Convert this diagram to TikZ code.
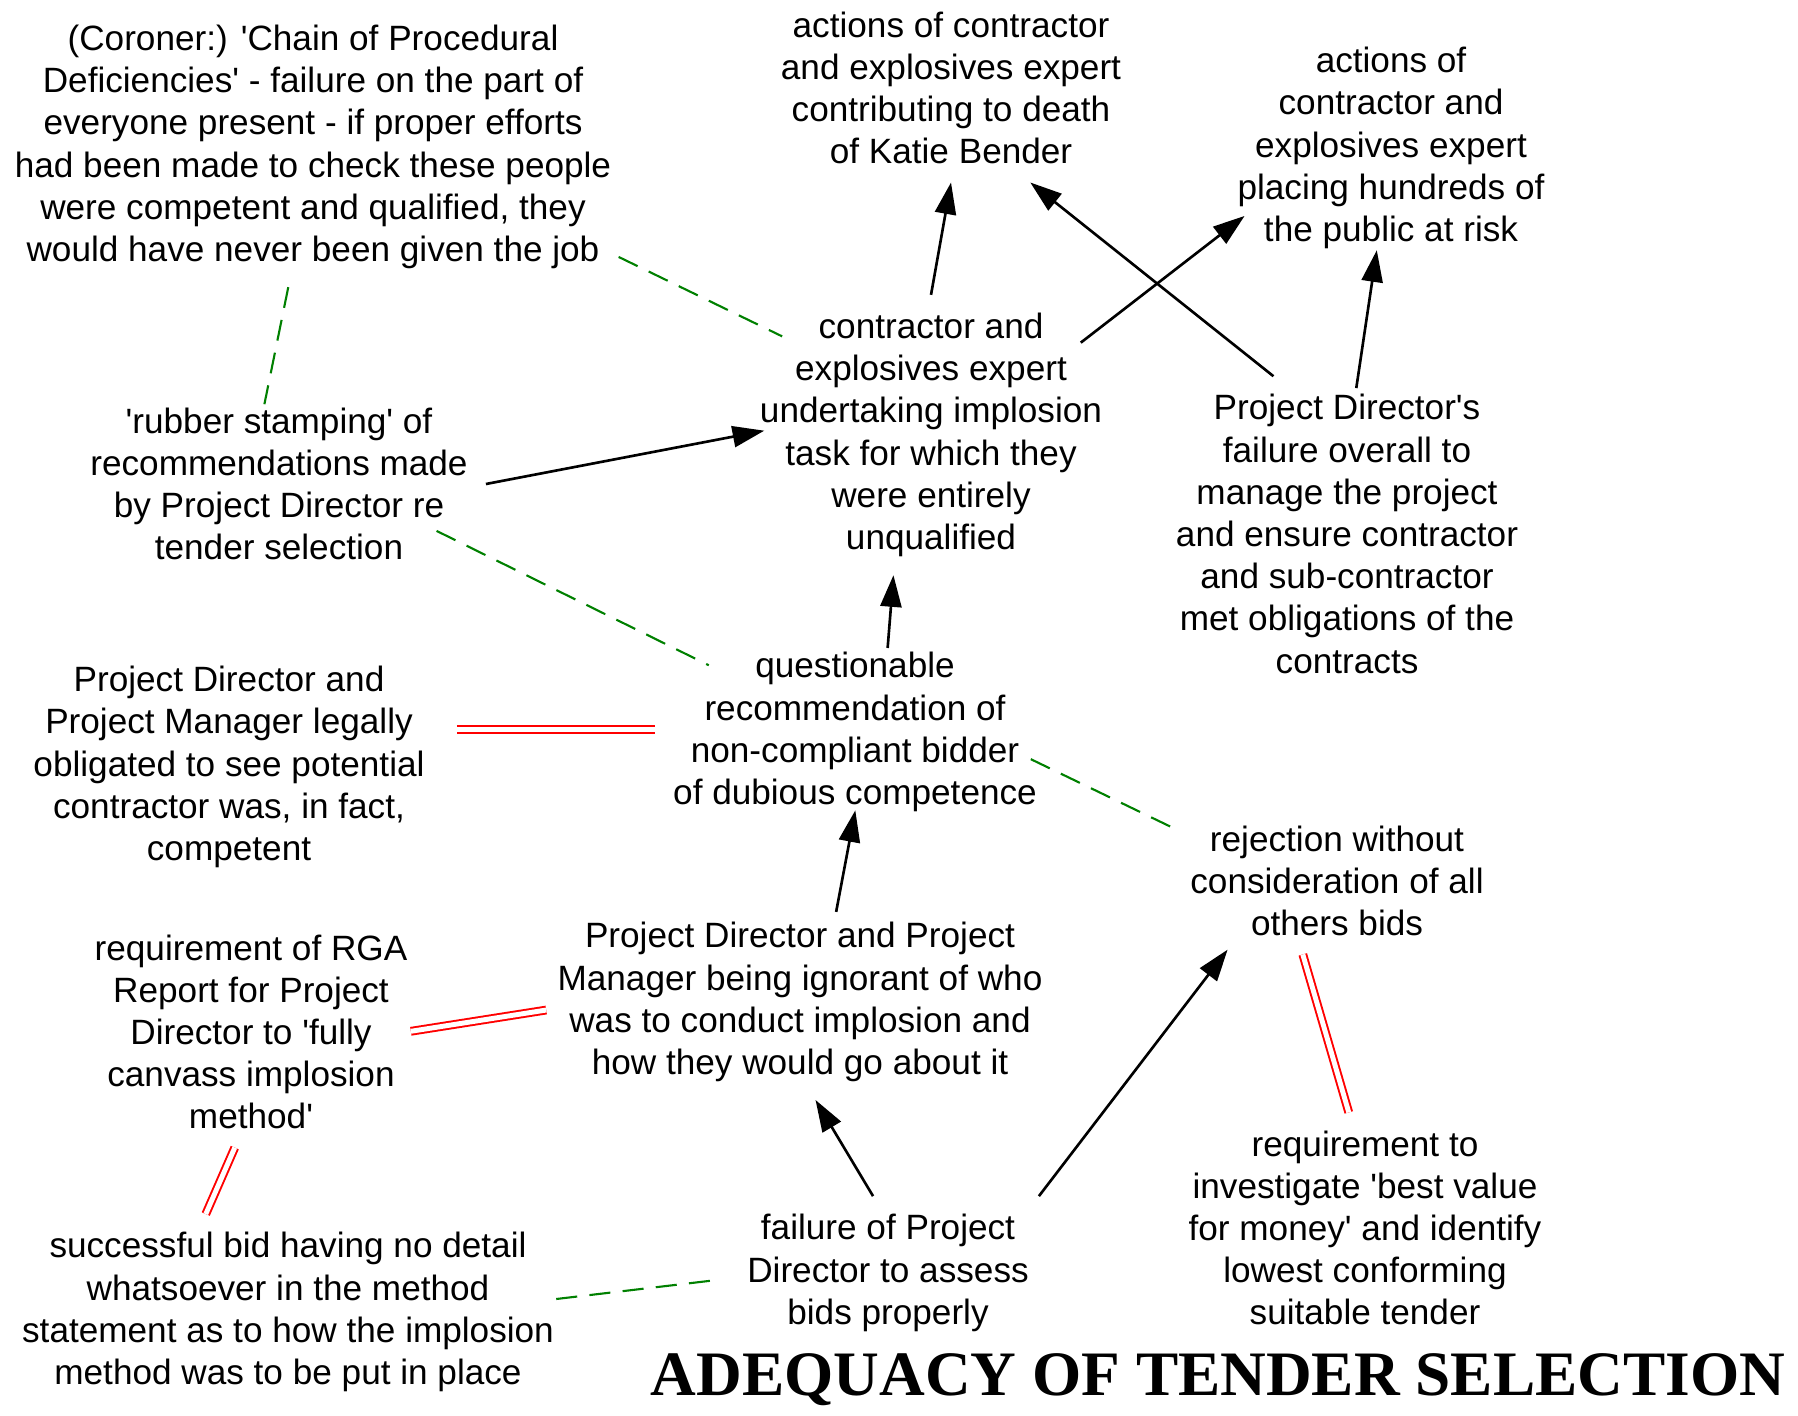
\documentclass[tikz,border=0pt]{standalone}
\usepackage{fontspec}
\setmainfont{Liberation Sans}
\newfontfamily\headfont{Liberation Serif}
\usetikzlibrary{arrows.meta}
\newcommand{\sq}{\textquotesingle}
\begin{document}
\begin{tikzpicture}[x=0.01cm,y=-0.01cm,
  idea/.style={align=center,inner sep=5pt,font=\fontsize{10}{12}\selectfont},
  cause/.style={draw=black,line width=0.75pt,-{Triangle[length=9pt,width=6pt]}},
  assoc/.style={draw=green!50!black,line width=0.6pt,dash pattern=on 6pt off 3.5pt},
  clashlink/.style={draw=red,line width=0.55pt,double=white,double distance=1.4pt}]
\useasboundingbox (0,0) rectangle (1798,1415);

% statements
\node[idea] (n1) at (313,147) {(Coroner:) \sq Chain of Procedural\\Deficiencies\sq{} - failure on the part of\\everyone present - if proper efforts\\had been made to check these people\\were competent and qualified, they\\would have never been given the job};
\node[idea] (n2) at (951,88) {actions of contractor\\and explosives expert\\contributing to death\\of Katie Bender};
\node[idea] (n3) at (1391,148) {actions of\\contractor and\\explosives expert\\placing hundreds of\\the public at risk};
\node[idea] (n4) at (931,435) {contractor and\\explosives expert\\undertaking implosion\\task for which they\\were entirely\\unqualified};
\node[idea] (n5) at (279,484) {\sq rubber stamping\sq{} of\\recommendations made\\by Project Director re\\tender selection};
\node[idea] (n6) at (1347,534) {Project Director\sq s\\failure overall to\\manage the project\\and ensure contractor\\and sub-contractor\\met obligations of the\\contracts};
\node[idea] (n7) at (855,732) {questionable\\recommendation of\\non-compliant bidder\\of dubious competence};
\node[idea] (n8) at (229,767) {Project Director and\\Project Manager legally\\obligated to see potential\\contractor was, in fact,\\competent};
\node[idea] (n9) at (1337,881) {rejection without\\consideration of all\\others bids};
\node[idea] (n10) at (251,1032) {requirement of RGA\\Report for Project\\Director to \sq fully\\canvass implosion\\method\sq};
\node[idea] (n11) at (800,1002) {Project Director and Project\\Manager being ignorant of who\\was to conduct implosion and\\how they would go about it};
\node[idea] (n12) at (1365,1228) {requirement to\\investigate \sq best value\\for money\sq{} and identify\\lowest conforming\\suitable tender};
\node[idea] (n13) at (888,1273) {failure of Project\\Director to assess\\bids properly};
\node[idea] (n14) at (288,1312) {successful bid having no detail\\whatsoever in the method\\statement as to how the implosion\\method was to be put in place};
\node[font=\headfont\bfseries\fontsize{18}{20}\selectfont,inner sep=0pt,anchor=base] (title) at (1218,1395) {ADEQUACY OF TENDER SELECTION};

% causal links
\draw[cause] (n4.90) -- (n2.-90);
\draw[cause,shorten <=-0.5cm,shorten >=-0.32cm] (n4.33) -- (n3.-153);
\draw[cause] (n6.115) -- (n2.-50);
\draw[cause,shorten <=-0.12cm,shorten >=-0.17cm] (n6.86) -- (n3.-98);
\draw[cause,shorten >=-0.23cm] (n5.0) -- (n4.180);
\draw[cause,shorten <=-0.14cm] (n7.71) -- (n4.-105);
\draw[cause,shorten <=-0.08cm,shorten >=-0.2cm] (n11.69) -- (n7.-92);
\draw[cause] (n13.101) -- (n11.-81);
\draw[cause,shorten >=-0.06cm] (n13.27) -- (n9.-147);

% associations
\draw[assoc,shorten <=-0.12cm,shorten >=-0.45cm] (n1.-20) -- (n4.148);
\draw[assoc,shorten >=-0.15cm] (n1.-100) -- (n5.97);
\draw[assoc,shorten <=-0.55cm,shorten >=-0.6cm] (n5.-19.5) -- (n7.155.4);
\draw[assoc,shorten <=-0.27cm] (n7.-11.7) -- (n9.162);
\draw[assoc,shorten <=-0.16cm,shorten >=0.18cm] (n14.3) -- (n13.-178);

% conflicting requirements
\draw[clashlink,shorten <=0.14cm] (n8.10) -- (n7.west |- n8.10);
\draw[clashlink,shorten <=-0.15cm,shorten >=-0.07cm] (n10.1) -- (n11.-178);
\draw[clashlink] (n10.-98) -- (n14.130);
\draw[clashlink] (n9.-115) -- (n12.98);
\end{tikzpicture}
\end{document}
